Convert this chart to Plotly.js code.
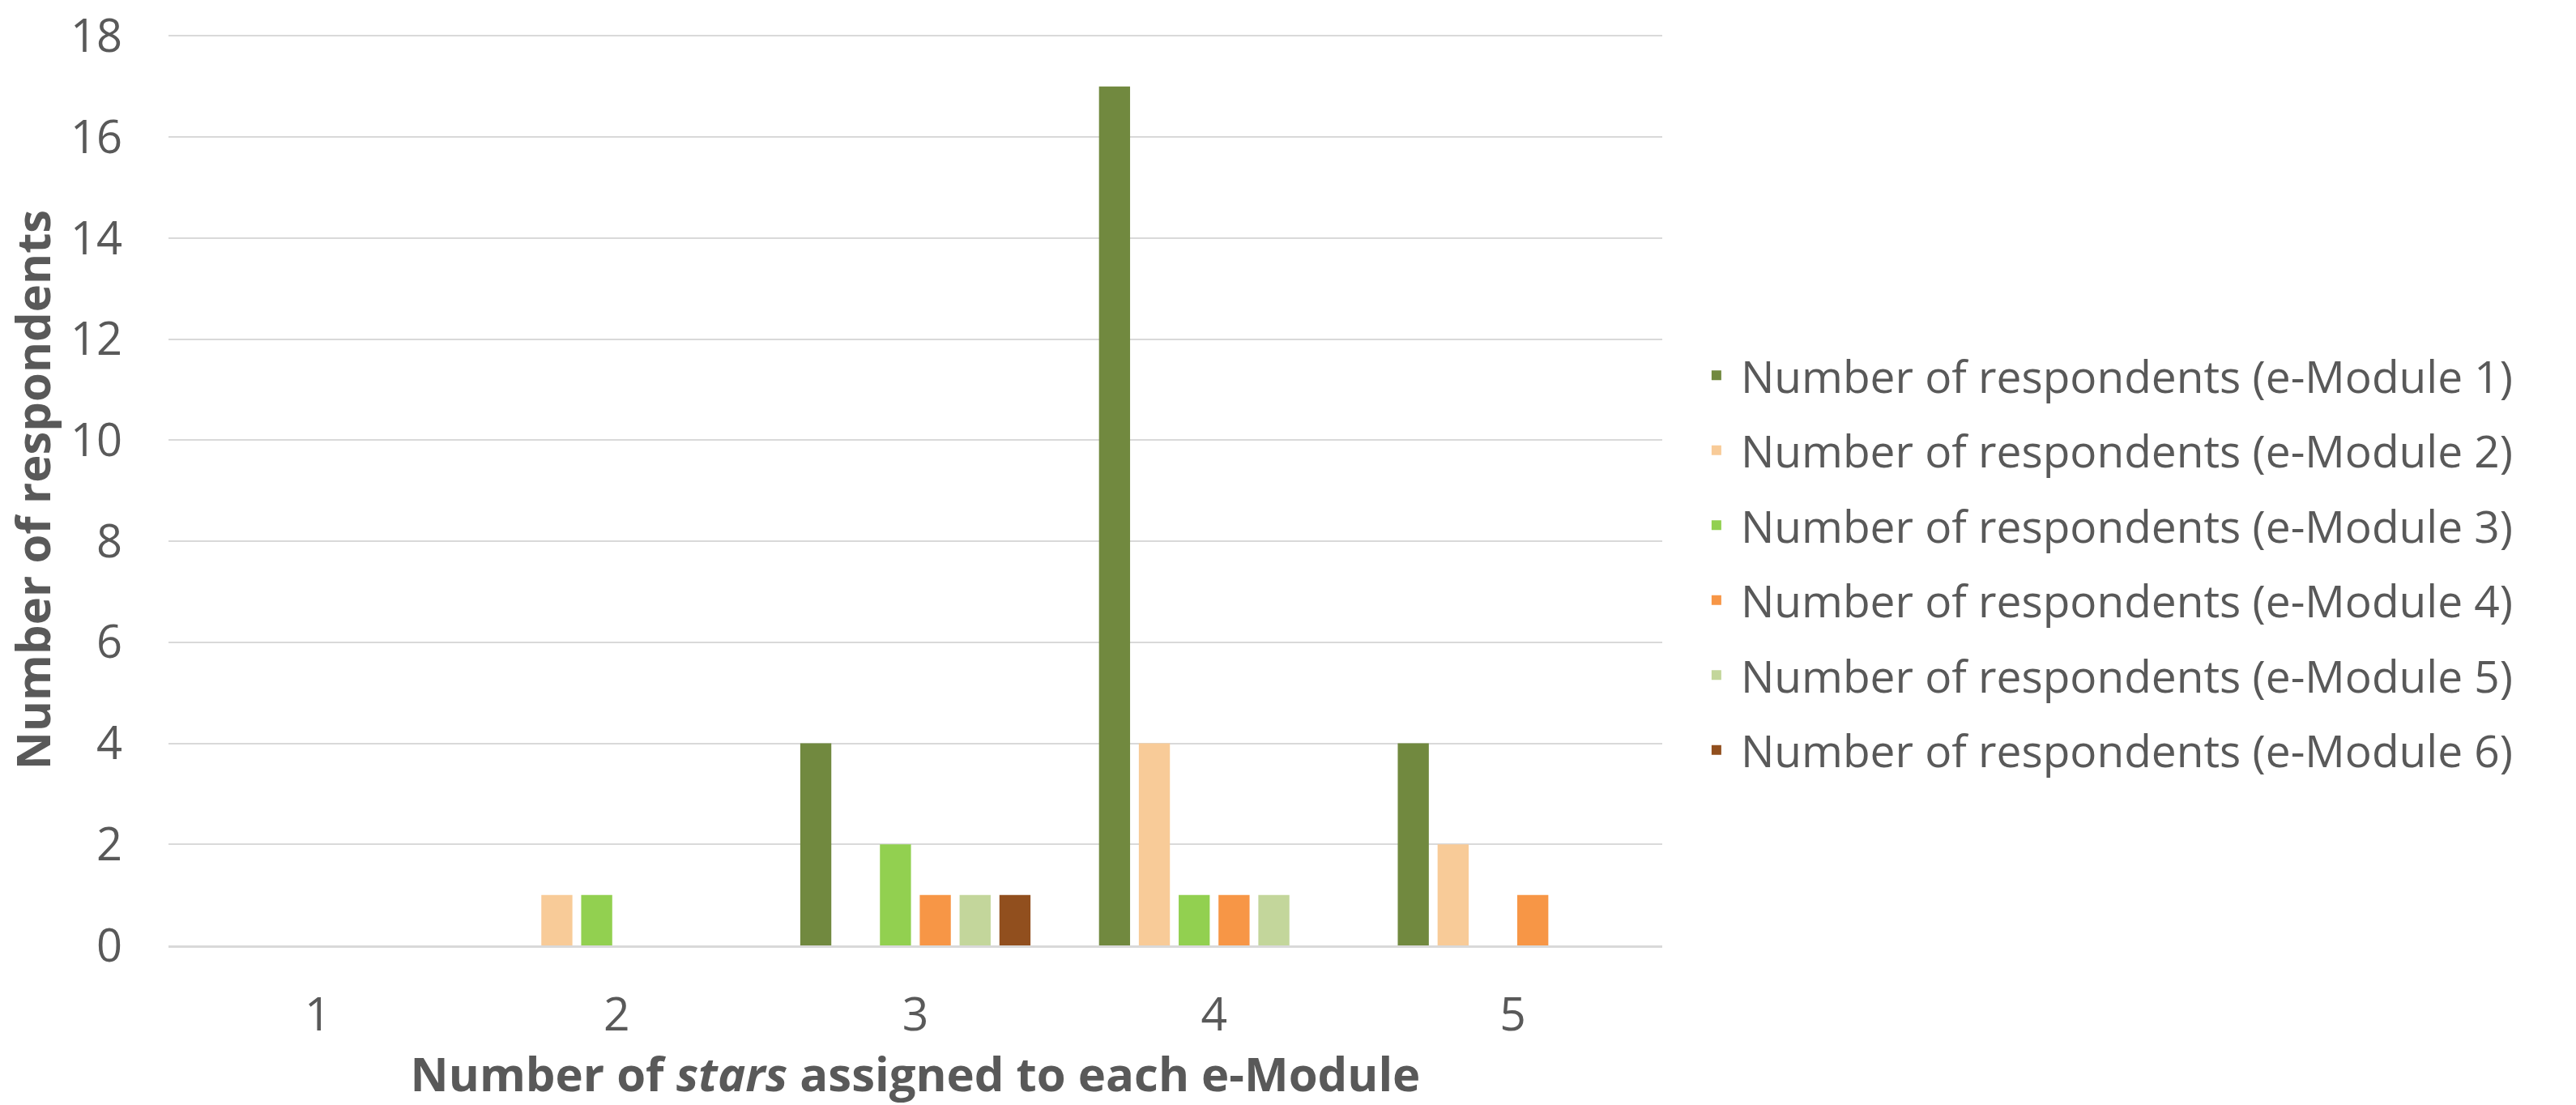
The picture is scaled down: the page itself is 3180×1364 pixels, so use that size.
<!DOCTYPE html>
<html>
<head>
<meta charset="utf-8">
<script src="https://cdn.plot.ly/plotly-3.0.1.min.js"></script>
<style>html,body{margin:0;padding:0;background:#fff;}#chart{width:3180px;height:1364px;}</style>
</head>
<body>
<div id="chart"></div>
<script>
const categories = ["1", "2", "3", "4", "5"];
const seriesNames = [
  "Number of respondents (e-Module 1)",
  "Number of respondents (e-Module 2)",
  "Number of respondents (e-Module 3)",
  "Number of respondents (e-Module 4)",
  "Number of respondents (e-Module 5)",
  "Number of respondents (e-Module 6)"
];
const module1 = [0, 0, 4, 17, 4];
const module2 = [0, 1, 0, 4, 2];
const module3 = [0, 1, 2, 1, 0];
const module4 = [0, 0, 1, 1, 1];
const module5 = [0, 0, 1, 1, 0];
const module6 = [0, 0, 1, 0, 0];
const seriesValues = [module1, module2, module3, module4, module5, module6];
const colors = ["#71893F", "#F8CB98", "#92D050", "#F79646", "#C3D69B", "#914F1E"];
const yTicks = [0, 2, 4, 6, 8, 10, 12, 14, 16, 18];

const textColor = "#595959";
const traces = seriesValues.map((vals, i) => ({
  type: "bar",
  name: seriesNames[i],
  x: categories,
  y: vals,
  legendgroup: "g" + i,
  marker: {color: colors[i], line: {width: 0}},
  hoverinfo: "x+y+name"
}));

const layout = {
  width: 3180,
  height: 1364,
  paper_bgcolor: "#ffffff",
  plot_bgcolor: "#ffffff",
  margin: {l: 208, r: 1128, t: 42, b: 197, pad: 0},
  barmode: "group",
  bargap: 0.2,
  bargroupgap: 0.22,
  font: {family: "Open Sans, sans-serif", color: textColor},
  xaxis: {
    type: "category",
    showgrid: false,
    showline: true,
    linecolor: "#D9D9D9",
    linewidth: 3,
    ticks: "",
    tickfont: {family: "Open Sans, sans-serif", size: 57, color: textColor},
    ticklabelstandoff: 34,
    title: {
      text: "Number of <i>stars</i> assigned to each e-Module",
      font: {family: "Open Sans, sans-serif", size: 58, color: textColor, weight: "bold"},
      standoff: 26
    }
  },
  yaxis: {
    range: [0, 18.04],
    tickvals: yTicks,
    showgrid: true,
    gridcolor: "#D9D9D9",
    gridwidth: 2,
    zeroline: false,
    showline: false,
    ticks: "",
    tickfont: {family: "Open Sans, sans-serif", size: 56, color: textColor},
    ticklabelstandoff: 56,
    ticklabeloverflow: "allow",
    title: {
      text: "Number of respondents",
      font: {family: "Open Sans, sans-serif", size: 58, color: textColor, weight: "bold"},
      standoff: 14
    }
  },
  showlegend: true,
  legend: {
    x: 1.02,
    xanchor: "left",
    y: 0.42,
    yanchor: "middle",
    traceorder: "grouped",
    tracegroupgap: 18,
    font: {family: "Open Sans, sans-serif", size: 55, color: textColor},
    bgcolor: "rgba(0,0,0,0)",
    itemwidth: 50
  }
};

Plotly.newPlot("chart", traces, layout, {staticPlot: true});
</script>
</body>
</html>
